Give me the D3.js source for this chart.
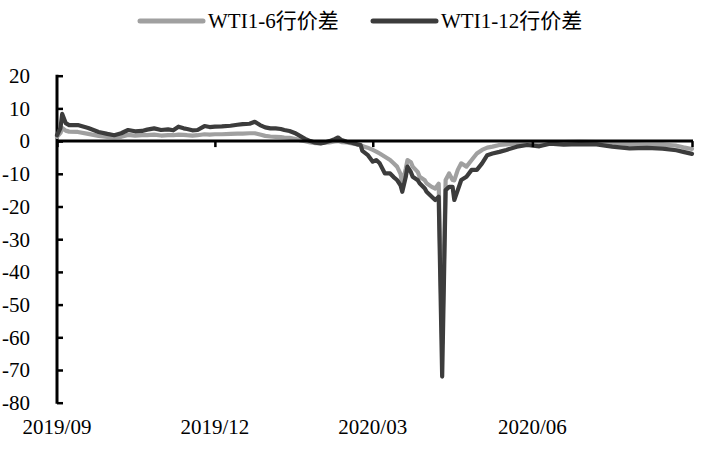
<!DOCTYPE html>
<html><head><meta charset="utf-8">
<script src="https://cdn.jsdelivr.net/npm/d3@7"></script>
<style>html,body{margin:0;padding:0;background:#fff;}svg{display:block;}</style>
</head><body>
<svg id="chart" width="702" height="449"></svg>
<script>
const seriesNames = ["WTI1-6行价差", "WTI1-12行价差"];
const dates = ["2019-09-01","2019-09-03","2019-09-04","2019-09-06","2019-09-08","2019-09-13","2019-09-19","2019-09-25","2019-09-30",
"2019-10-04","2019-10-08","2019-10-12","2019-10-16","2019-10-20","2019-10-23","2019-10-27","2019-10-31",
"2019-11-04","2019-11-07","2019-11-10","2019-11-13","2019-11-15","2019-11-18","2019-11-21","2019-11-25","2019-11-28",
"2019-12-01","2019-12-05","2019-12-10","2019-12-14","2019-12-17","2019-12-21","2019-12-24","2019-12-27","2019-12-30",
"2020-01-02","2020-01-05","2020-01-08","2020-01-10","2020-01-13","2020-01-16","2020-01-19","2020-01-22","2020-01-25","2020-01-28","2020-01-31",
"2020-02-02","2020-02-05","2020-02-08","2020-02-10","2020-02-12","2020-02-15","2020-02-18","2020-02-21","2020-02-23","2020-02-24","2020-02-27",
"2020-03-01","2020-03-03","2020-03-05","2020-03-08","2020-03-11","2020-03-13","2020-03-15","2020-03-17","2020-03-18","2020-03-20","2020-03-21","2020-03-23","2020-03-24","2020-03-27","2020-03-28","2020-03-31",
"2020-04-01","2020-04-04","2020-04-06","2020-04-08","2020-04-10","2020-04-12","2020-04-14","2020-04-16","2020-04-17","2020-04-19","2020-04-21","2020-04-24","2020-04-27","2020-04-30",
"2020-05-03","2020-05-06","2020-05-09","2020-05-13","2020-05-17","2020-05-23","2020-05-29",
"2020-06-05","2020-06-11","2020-06-19","2020-06-28","2020-07-08","2020-07-17","2020-07-27","2020-08-06","2020-08-15","2020-08-23","2020-08-27","2020-09-01"];
const wti1_12 = [1.8,4.0,8.3,5.5,4.9,4.9,4.0,2.8,2.2,
1.8,2.4,3.4,3.0,3.1,3.5,3.9,3.4,
3.6,3.3,4.4,3.9,3.7,3.3,3.4,4.6,4.3,
4.4,4.5,4.7,5.0,5.2,5.3,5.9,4.9,4.2,
3.9,3.9,3.7,3.4,3.1,2.5,1.6,0.7,0,-0.5,-0.7,
-0.5,0,0.6,1.1,0.3,-0.2,-0.5,-1.0,-1.2,-3.0,-4.2,
-6.3,-5.8,-6.8,-9.9,-9.9,-11,-11.9,-13.5,-15.5,-11,-7.8,-9.5,-10.9,-12,-12.9,-14.5,
-15.5,-17,-18,-17,-72,-15,-14,-14,-18,-15,-11.9,-10.9,-8.8,-8.8,
-6.8,-4.3,-3.8,-3.3,-2.7,-1.7,-1.2,
-1.6,-0.8,-1.1,-0.9,-1.0,-1.7,-2.2,-2.1,-2.3,-2.8,-3.3,-3.9];
const wti1_6 = [1.3,2.5,4.0,3.2,2.9,2.8,2.2,1.6,1.3,
1.2,1.3,1.9,1.7,1.8,1.8,2.0,1.7,
1.8,1.8,2.0,1.9,1.8,1.7,1.8,2.1,2.0,
2.1,2.1,2.2,2.3,2.3,2.4,2.4,2.0,1.6,
1.4,1.3,1.2,1.1,1.0,0.7,0.3,0,-0.4,-0.6,-0.6,
-0.5,-0.4,-0.1,0,-0.3,-0.4,-0.7,-1.0,-1.2,-1.5,-2.0,
-2.7,-3.2,-3.8,-4.8,-5.8,-6.8,-7.8,-10,-13,-8.5,-5.8,-6.5,-7.8,-9.5,-10.9,-12,
-12.9,-14,-14.5,-13,-62,-11.9,-9.9,-11.9,-12,-8.8,-6.8,-7.8,-5.8,-3.8,
-2.7,-2.0,-1.7,-1.2,-1.0,-0.7,-0.5,
-0.7,-0.3,-0.3,-0.2,-0.3,-0.6,-0.9,-1.1,-1.1,-1.4,-1.9,-2.4];
const xTickDates = ["2019-09-01","2019-12-01","2020-03-01","2020-06-01","2020-09-01"];
const xTickLabels = ["2019/09","2019/12","2020/03","2020/06",""];
const yTicks = [20,10,0,-10,-20,-30,-40,-50,-60,-70,-80];
const colors = ["#a0a0a0", "#3c3c3c"];

const parse = d3.timeParse("%Y-%m-%d");
const svg = d3.select("#chart");
const FONT = "'Liberation Serif','Times New Roman','Noto Sans CJK SC',serif";

const x = d3.scaleTime().domain([parse("2019-09-01"), parse("2020-09-01")]).range([57, 692]);
const y = d3.scaleLinear().domain([-80, 20]).range([402.7, 75.7]);

// y axis
const yAxis = d3.axisRight(y).tickValues(yTicks).tickSize(6).tickFormat("");
const gy = svg.append("g").attr("transform", "translate(57,0)").call(yAxis);
gy.select(".domain").remove();
gy.selectAll(".tick line").attr("stroke", "#000").attr("stroke-width", 2.5);
svg.append("line").attr("x1", 57).attr("x2", 57).attr("y1", y(20) - 1).attr("y2", y(-80) + 1)
  .attr("stroke", "#000").attr("stroke-width", 3);
svg.append("g").selectAll("text").data(yTicks).join("text")
  .attr("x", 30).attr("y", d => y(d)).attr("dy", "0.35em").attr("text-anchor", "end")
  .attr("font-family", FONT).attr("font-size", 21).attr("fill", "#000").text(d => d);

// series
const data = [wti1_6, wti1_12].map(vals => dates.map((d, i) => ({ date: parse(d), v: vals[i] })));
const line = d3.line().x(d => x(d.date)).y(d => y(d.v));
svg.append("g").selectAll("path").data(data).join("path")
  .attr("d", line).attr("fill", "none")
  .attr("stroke", (d, i) => colors[i]).attr("stroke-width", 4.2)
  .attr("stroke-linejoin", "round").attr("stroke-linecap", "round");

// x axis on zero line
const xAxis = d3.axisBottom(x).tickValues(xTickDates.map(parse)).tickSize(6).tickFormat("");
const gx = svg.append("g").attr("transform", `translate(0,${y(0)})`).call(xAxis);
gx.select(".domain").remove();
gx.selectAll(".tick line").attr("stroke", "#000").attr("stroke-width", 2.5);
svg.append("line").attr("x1", 57).attr("x2", 693).attr("y1", y(0)).attr("y2", y(0))
  .attr("stroke", "#000").attr("stroke-width", 3);
svg.append("g").selectAll("text").data(xTickDates).join("text")
  .attr("x", d => x(parse(d))).attr("y", 434).attr("text-anchor", "middle")
  .attr("font-family", FONT).attr("font-size", 21).attr("fill", "#000")
  .text((d, i) => xTickLabels[i]);

// legend
const legendX = [140, 373];
const lg = svg.append("g").selectAll("g").data(seriesNames).join("g")
  .attr("transform", (d, i) => `translate(${legendX[i]},21)`);
lg.append("line").attr("x1", 0).attr("x2", 63).attr("y1", 0).attr("y2", 0)
  .attr("stroke", (d, i) => colors[i]).attr("stroke-width", 5).attr("stroke-linecap", "round");
lg.append("text").attr("x", 68).attr("y", 7).attr("font-family", FONT).attr("font-size", 21)
  .attr("fill", "#000").text(d => d);
</script>
</body></html>
